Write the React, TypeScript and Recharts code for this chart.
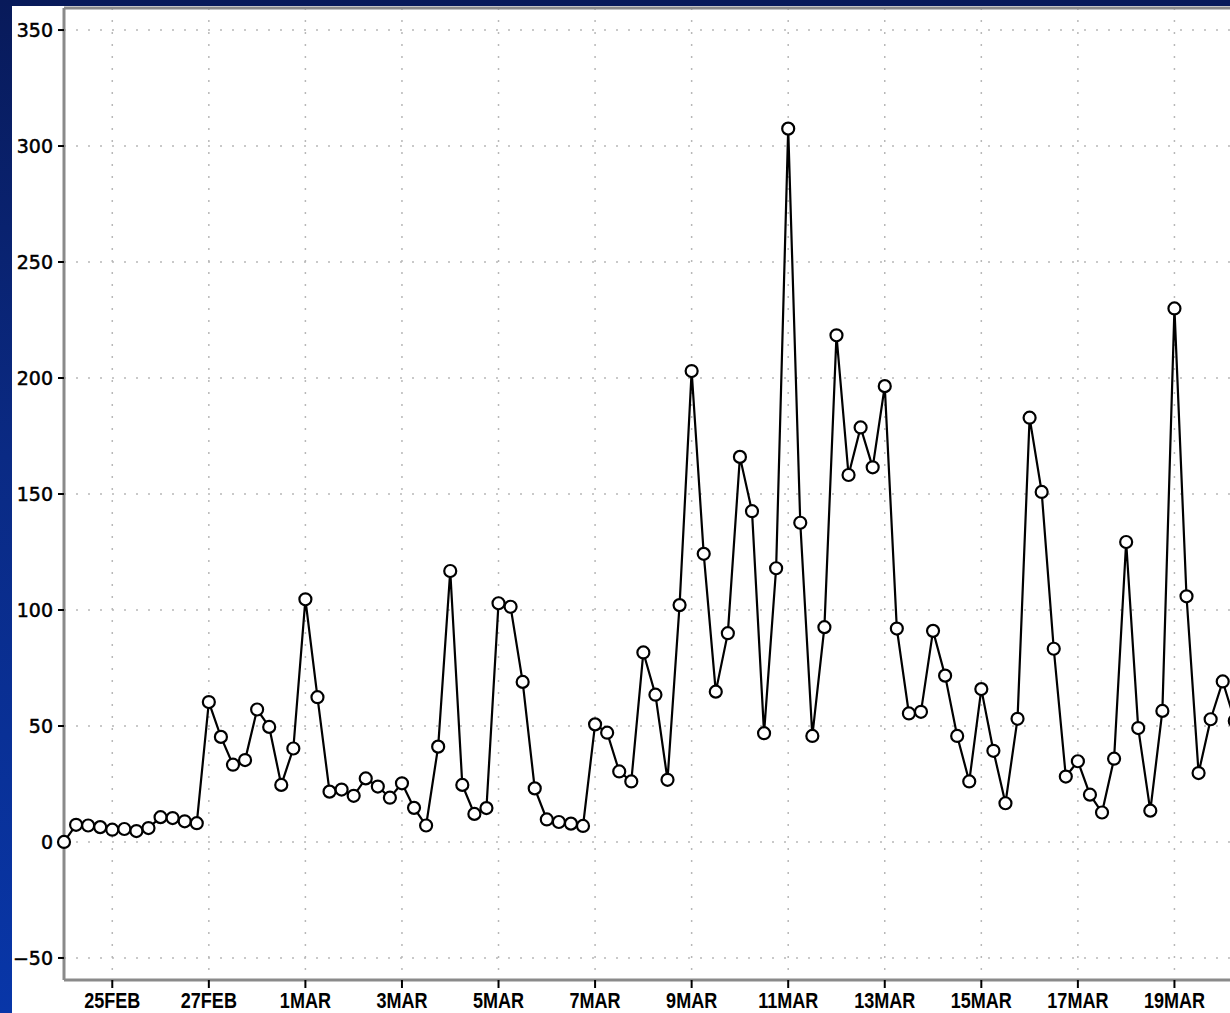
import { Line, LineChart, XAxis, YAxis, CartesianGrid, ReferenceLine } from "recharts"

// 6-hourly values starting 24FEB 00Z
const values = [
  0, 7.4, 7.1, 6.4, 5.3, 5.6, 4.7, 6, 10.7, 10.3, 8.9, 8.1,
  60.3, 45.3, 33.3, 35.3, 57.1, 49.6, 24.6, 40.3, 104.6, 62.4, 21.7, 22.6,
  19.9, 27.4, 23.9, 19.1, 25.3, 14.7, 7.1, 41.1, 116.8, 24.6, 12.1, 14.6,
  102.9, 101.4, 69, 23.1, 9.7, 8.6, 7.9, 6.9, 50.7, 47.1, 30.4, 26.1,
  81.7, 63.5, 26.8, 102.1, 203, 124.2, 64.8, 90, 166, 142.6, 46.9, 118,
  307.5, 137.6, 45.7, 92.6, 218.4, 158.2, 178.7, 161.5, 196.5, 92, 55.4, 56.1,
  91, 71.7, 45.7, 26.1, 65.9, 39.3, 16.7, 53.1, 182.9, 150.9, 83.3, 28.2,
  34.8, 20.4, 12.7, 35.9, 129.3, 49.1, 13.5, 56.5, 230, 105.9, 29.7, 52.9,
  69.2, 52.2,
]

// tick positions in days after 24FEB
const tickDays = [1, 3, 5, 7, 9, 11, 13, 15, 17, 19, 21, 23]
const tickLabels = ["25FEB", "27FEB", "1MAR", "3MAR", "5MAR", "7MAR", "9MAR", "11MAR", "13MAR", "15MAR", "17MAR", "19MAR"]
const yTicks = [-50, 0, 50, 100, 150, 200, 250, 300, 350]
const yearLabel = "2005"

const data = values.map((v, i) => ({ t: i * 0.25, v }))

const XTick = (props: any) => {
  const { x, y, payload, index } = props
  const i = tickDays.indexOf(payload.value)
  return (
    <g>
      <text
        transform={`translate(${x},${y + 17.5}) scale(0.82,1)`}
        textAnchor="middle"
        fontFamily="'Liberation Sans', Arial, sans-serif"
        fontWeight="bold"
        fontSize={22}
        fill="#000"
      >
        {tickLabels[i]}
      </text>
      {index === 0 && (
        <text
          transform={`translate(${x},${y + 38}) scale(0.82,1)`}
          textAnchor="middle"
          fontFamily="'Liberation Sans', Arial, sans-serif"
          fontWeight="bold"
          fontSize={22}
          fill="#555"
        >
          {yearLabel}
        </text>
      )}
    </g>
  )
}

export default function App() {
  return (
    <div
      style={{
        position: "fixed",
        left: 0,
        top: 0,
        width: 1230,
        height: 1013,
        overflow: "hidden",
        background: "linear-gradient(180deg, #081a5a 0%, #0a2a84 45%, #0836a8 100%)",
      }}
    >
      <div style={{ position: "absolute", left: 12, top: 6, right: 0, bottom: 0, background: "#fff" }} />
      <div style={{ position: "absolute", left: 0, top: 0 }}>
        <LineChart width={1271} height={1013} data={data} margin={{ top: 8, right: 0, left: 0, bottom: 0 }}>
          <CartesianGrid stroke="#b8b8b8" strokeWidth={1.5} strokeDasharray="2 10" />
          <XAxis
            dataKey="t"
            type="number"
            domain={[0, 25]}
            ticks={tickDays}
            height={33}
            tickSize={8}
            tickMargin={2}
            interval={0}
            axisLine={{ stroke: "#8a8a8a", strokeWidth: 3 }}
            tickLine={{ stroke: "#000", strokeWidth: 2 }}
            tick={<XTick />}
          />
          <YAxis
            type="number"
            domain={[-59.5, 359.5]}
            ticks={yTicks}
            width={64}
            tickSize={6}
            tickMargin={5}
            interval={0}
            axisLine={{ stroke: "#8a8a8a", strokeWidth: 3 }}
            tickLine={{ stroke: "#000", strokeWidth: 2 }}
            tickFormatter={(v: number) => String(v).replace("-", "\u2212")}
            tick={{ fill: "#000", stroke: "#000", strokeWidth: 0.5, fontSize: 19, fontFamily: "'DejaVu Sans', sans-serif" }}
          />
          <ReferenceLine y={359.5} stroke="#8a8a8a" strokeWidth={3} />
          <Line
            type="linear"
            dataKey="v"
            stroke="#000"
            strokeWidth={2.2}
            dot={{ r: 6, fill: "#fff", stroke: "#000", strokeWidth: 2.2 }}
            isAnimationActive={false}
          />
        </LineChart>
      </div>
    </div>
  )
}
